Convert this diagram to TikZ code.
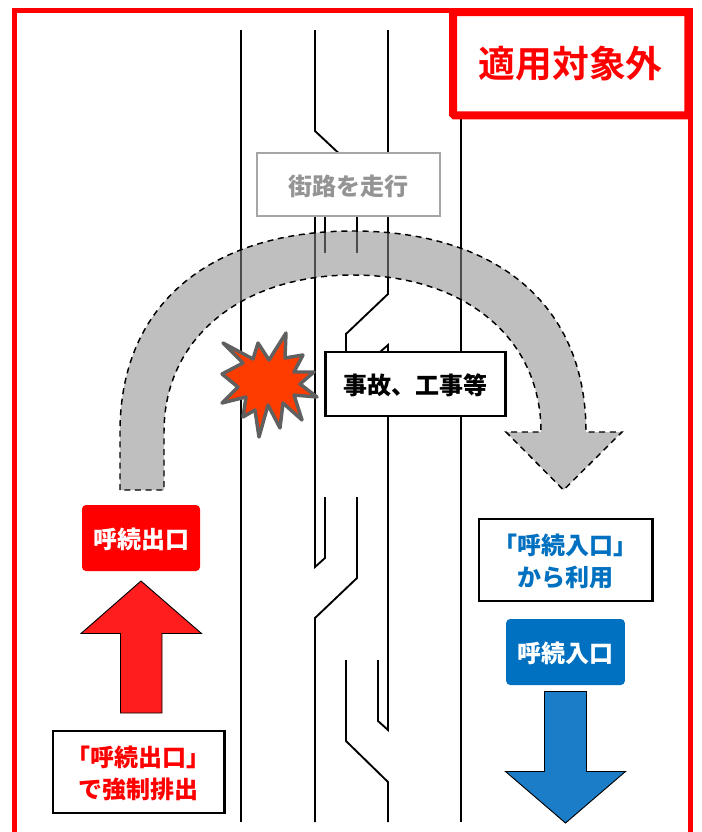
\documentclass[tikz,border=0pt]{standalone}
\usepackage{fontspec}
\setmainfont{Noto Sans CJK JP}[BoldFont={* Black}]
\newfontfamily\plainjp{Noto Sans CJK JP Bold}
\definecolor{outred}{HTML}{FF0000}
\definecolor{arrowred}{HTML}{FF1D1D}
\definecolor{inblue}{HTML}{0070C0}
\definecolor{arrowblue}{HTML}{1B7DC8}
\definecolor{crashfill}{HTML}{FF3C00}
\definecolor{crashline}{HTML}{606060}
\newcommand{\lowered}[1]{\raisebox{-1.6pt}[1em][.3em]{#1}}
\tikzset{
  road/.style={line width=1.4pt},
  label/.style={font=\bfseries\fontsize{18}{24}\selectfont,align=center},
  sign/.style={label,fill,rounded corners=3pt,text=white},
  notebox/.style={label,draw=black,fill=white,line width=2pt},
  bigarrow/.style={draw=black,line width=.7pt,line join=miter},
}
\begin{document}
\begin{tikzpicture}
  [x=.75pt,y=-.75pt]

  \useasboundingbox (0,0) rectangle (702,832);
  \draw[outred,line width=3.8pt] (14.5,832) -- (14.5,10.5) -- (690.5,10.5) -- (690.5,832);

  % straight lanes
  \foreach \xa/\ya/\xb/\yb in {241/30/241/822,461/30/461/822,325/217/325/253,357/217/357/253}
    \draw[road] (\xa,\ya) -- (\xb,\yb);

  % lanes with a shift
  \draw[road] (315,30) -- (315,131) -- (346,160);
  \draw[road] (388,30) -- (388,294) -- (346,334) -- (346,360);
  \draw[road] (315,217) -- (315,567) -- (325,558) -- (325,497);
  \draw[road] (357,497) -- (357,578) -- (315,618) -- (315,822);
  \draw[road] (380,352) -- (388,345) -- (388,730) -- (378,721) -- (378,660);
  \draw[road] (346,660) -- (346,741) -- (388,782) -- (388,822);

  % detour
  \draw[dash pattern=on 4.5pt off 3.5pt,line width=1.1pt,fill=black!45.5,fill opacity=.55]
    (120,490) -- (120,432) .. controls (120,300) and (215,231) .. (353,231)
    .. controls (491,231) and (586,300) .. (586,432) -- (622,432) -- (563.5,490)
    -- (506,432) -- (541,432) .. controls (541,335) and (461,275) .. (353,275)
    .. controls (245,275) and (164,335) .. (164,432) -- (164,490) -- cycle;

  % crash
  \draw[fill=crashfill,draw=crashline,line width=2.6pt,line join=round]
    (223,343) -- (253,359) -- (258,343) -- (269,360) -- (286,333) -- (285,358)
    -- (303,355) -- (294,372) -- (314,372) -- (300,384) -- (317,397) -- (294,395)
    -- (302,420) -- (283,403) -- (280,428) -- (268,405) -- (259,437) -- (255,410)
    -- (243,417) -- (246,397) -- (222,403) -- (238,387) -- (222,374) -- (243,363) -- cycle;

  % up and down arrows
  \draw[bigarrow,fill=arrowred] (141,581) -- (201.5,633.5) -- (162,633.5) -- (162,713)
    -- (120.5,713) -- (120.5,633.5) -- (81,633.5) -- cycle;
  \draw[bigarrow,fill=arrowblue] (565.5,823) -- (625.5,771.5) -- (586.5,771.5) -- (586.5,691.5)
    -- (544.5,691.5) -- (544.5,771.5) -- (505.5,771.5) -- cycle;

  \node[draw=black!35,line width=1.8pt,fill=white,inner sep=0pt,minimum width=137pt,minimum height=47pt,
    text=black!42,font=\bfseries\fontsize{18}{24}\selectfont] (street) at (348.5,184.5) {\lowered{街路を走行}};
  \node[notebox,inner sep=0pt,minimum width=135pt,minimum height=48pt,
    font=\bfseries\fontsize{18}{24}\selectfont] (crash) at (415.5,384) {\lowered{事故、工事等}};

  \node[sign,fill=outred,inner sep=0pt,minimum width=88.5pt,minimum height=49.5pt] (exit) at (141,538) {\lowered{呼続出口}};
  \node[sign,fill=inblue,inner sep=0pt,minimum width=89pt,minimum height=49.5pt] (entry) at (565.5,652) {\lowered{呼続入口}};

  \node[notebox,text=outred,inner sep=0pt,minimum width=128.5pt,minimum height=61.5pt] (exitnote) at (138.5,772) {\lowered{「呼続出口」}\\\lowered{で強制排出}};
  \node[notebox,text=inblue,inner sep=0pt,minimum width=130pt,minimum height=61.5pt] (entrynote) at (565.5,560) {\lowered{「呼続入口」}\\\lowered{から利用}};

  \node[draw=outred,line width=6pt,fill=white,rounded corners=1pt,inner sep=0pt,minimum width=176.5pt,minimum height=77.5pt,
    text=outred,font=\plainjp\fontsize{27.6}{30}\selectfont] (scope) at (570.75,63.75) {適用対象外};
\end{tikzpicture}
\end{document}
